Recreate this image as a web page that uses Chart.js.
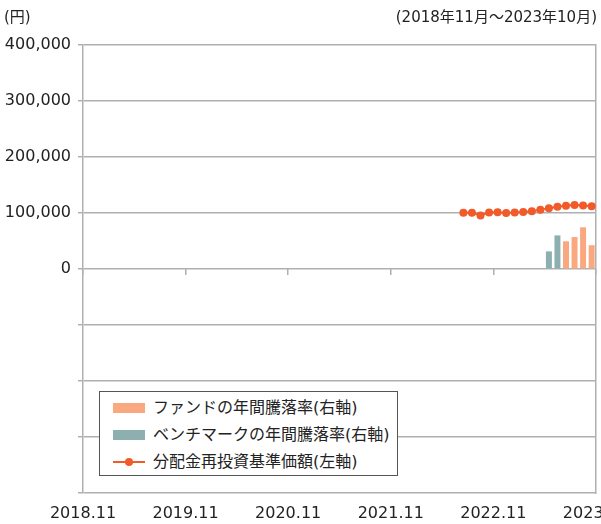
<!DOCTYPE html>
<html>
<head>
<meta charset="utf-8">
<script src="https://cdn.jsdelivr.net/npm/chart.js@4.4.0/dist/chart.umd.min.js"></script>
<style>
  html, body { margin: 0; padding: 0; background: #fff; overflow: hidden; width: 601px; height: 524px; }
  body { position: relative; font-family: "DejaVu Sans", "Noto Sans CJK JP", sans-serif; color: #222; }
  #wrap { position: absolute; left: 0; top: 0; width: 640px; height: 524px; }
  .note { position: absolute; top: 6px; font-size: 15px; line-height: 22px; }
  #legend { position: absolute; left: 99px; top: 391px; width: 297px; height: 83px; border: 1.5px solid #555; background: #fff; font-size: 16px; }
  .item { position: absolute; left: 13px; height: 22px; line-height: 22px; }
  .sw { position: absolute; left: 0; top: 6px; width: 32px; height: 10px; }
  .txt { position: absolute; left: 40px; top: 0; white-space: nowrap; }
</style>
</head>
<body>
<div id="wrap"><canvas id="grafico" width="640" height="524"></canvas></div>
<div class="note" style="left:4px;">(円)</div>
<div class="note" style="right:4px;">(2018年11月～2023年10月)</div>
<div id="legend"></div>
<script>
// 横軸の目盛り（年）
const yearTicks = ['2018.11', '2019.11', '2020.11', '2021.11', '2022.11', '2023.11'];

// 分配金再投資基準価額（左軸）
const navMonths = ['2022.07', '2022.08', '2022.09', '2022.10', '2022.11', '2022.12', '2023.01', '2023.02',
    '2023.03', '2023.04', '2023.05', '2023.06', '2023.07', '2023.08', '2023.09', '2023.10'];
const navValues = [100600, 100600, 95500, 101000, 101300, 99800, 101000, 101600,
    103000, 106000, 108700, 111200, 112800, 114500, 113400, 112100];

// ベンチマークの年間騰落率（右軸, %）
const benchMonths = ['2023.05', '2023.06'];
const benchValues = [6.3, 12.0];

// ファンドの年間騰落率（右軸, %）
const fundMonths = ['2023.07', '2023.08', '2023.09', '2023.10'];
const fundValues = [9.9, 11.4, 14.9, 8.5];

const leftTicks = [0, 100000, 200000, 300000, 400000];

const colores = {
    fondo: '#F9A880',
    bench: '#8EAFAF',
    linea: '#F15A29',
    grid: '#b0b0b0'
};

// '2022.07' -> 月の中央の位置
function posicion(mes) {
    const p = mes.split('.');
    return (parseInt(p[0]) - 2018) * 12 + (parseInt(p[1]) - 11) + 0.5;
}
function puntos(meses, valores) {
    let data = [];
    for (let i = 0; i < meses.length; i++) {
        data.push({ x: posicion(meses[i]), y: valores[i] });
    }
    return data;
}
function etiquetaAnio(value) {
    const i = Math.round(value / 12);
    return yearTicks[i] !== undefined ? yearTicks[i] : '';
}

const ctx = document.getElementById('grafico');
const fuente = { family: '"DejaVu Sans", "Noto Sans CJK JP", sans-serif', size: 16 };

new Chart(ctx, {
    data: {
        datasets: [{
            type: 'line',
            label: '分配金再投資基準価額(左軸)',
            data: puntos(navMonths, navValues),
            yAxisID: 'y',
            borderColor: colores.linea,
            backgroundColor: colores.linea,
            borderWidth: 2,
            pointRadius: 4,
            pointBorderWidth: 0,
            order: 0
        }, {
            type: 'bar',
            label: 'ベンチマークの年間騰落率(右軸)',
            data: puntos(benchMonths, benchValues),
            yAxisID: 'y1',
            backgroundColor: colores.bench,
            grouped: false,
            barPercentage: 0.7,
            categoryPercentage: 1,
            order: 1
        }, {
            type: 'bar',
            label: 'ファンドの年間騰落率(右軸)',
            data: puntos(fundMonths, fundValues),
            yAxisID: 'y1',
            backgroundColor: colores.fondo,
            grouped: false,
            barPercentage: 0.7,
            categoryPercentage: 1,
            order: 1
        }]
    },
    options: {
        responsive: false,
        animation: false,
        layout: { padding: { top: 45, right: 42, left: 0, bottom: 0 } },
        plugins: {
            legend: { display: false },
            tooltip: { enabled: false }
        },
        scales: {
            x: {
                type: 'linear',
                min: 0,
                max: 60,
                offset: false,
                position: 'bottom',
                afterFit: function (scale) { scale.height = 31; },
                grid: { display: false, drawTicks: false, offset: false },
                border: { display: false },
                ticks: {
                    stepSize: 12,
                    autoSkip: false,
                    maxRotation: 0,
                    padding: 11,
                    color: '#222',
                    font: fuente,
                    callback: etiquetaAnio
                }
            },
            x2: {
                type: 'linear',
                min: 0,
                max: 60,
                offset: false,
                position: { y: 0 },
                grid: { drawOnChartArea: false, drawTicks: true, tickLength: 6, color: colores.grid, lineWidth: 1.5, offset: false },
                border: { display: false },
                ticks: { display: false, stepSize: 12 }
            },
            y: {
                min: -400000,
                max: 400000,
                position: 'left',
                afterFit: function (scale) { scale.width = 83; },
                afterBuildTicks: function (scale) {
                    scale.ticks = [-400000, -300000, -200000, -100000].concat(leftTicks).map(v => ({ value: v }));
                },
                grid: { color: colores.grid, lineWidth: 1.5, tickLength: 5 },
                border: { color: colores.grid, width: 1.5 },
                ticks: {
                    padding: 7,
                    color: '#222',
                    font: fuente,
                    callback: function (value) {
                        return leftTicks.indexOf(value) >= 0 ? value.toLocaleString('en-US') : '';
                    }
                }
            },
            y1: {
                min: -80,
                max: 80,
                position: 'right',
                afterFit: function (scale) { scale.width = 0; },
                grid: { drawOnChartArea: false, drawTicks: false },
                border: { color: colores.grid, width: 1.5 },
                ticks: { display: false, stepSize: 20 }
            }
        }
    }
});

// 凡例
const itemsLegend = [
    { texto: 'ファンドの年間騰落率(右軸)', color: colores.fondo, tipo: 'bar' },
    { texto: 'ベンチマークの年間騰落率(右軸)', color: colores.bench, tipo: 'bar' },
    { texto: '分配金再投資基準価額(左軸)', color: colores.linea, tipo: 'line' }
];
const legend = document.getElementById('legend');
itemsLegend.forEach(function (it, i) {
    const div = document.createElement('div');
    div.className = 'item';
    div.style.top = (5 + i * 27) + 'px';
    let sw;
    if (it.tipo === 'bar') {
        sw = '<span class="sw" style="background:' + it.color + '"></span>';
    } else {
        sw = '<span class="sw" style="top:10px;height:2px;background:' + it.color + '"></span>' +
             '<span class="sw" style="left:12px;top:7px;width:8px;height:8px;border-radius:50%;background:' + it.color + '"></span>';
    }
    div.innerHTML = sw + '<span class="txt">' + it.texto + '</span>';
    legend.appendChild(div);
});
</script>
</body>
</html>
